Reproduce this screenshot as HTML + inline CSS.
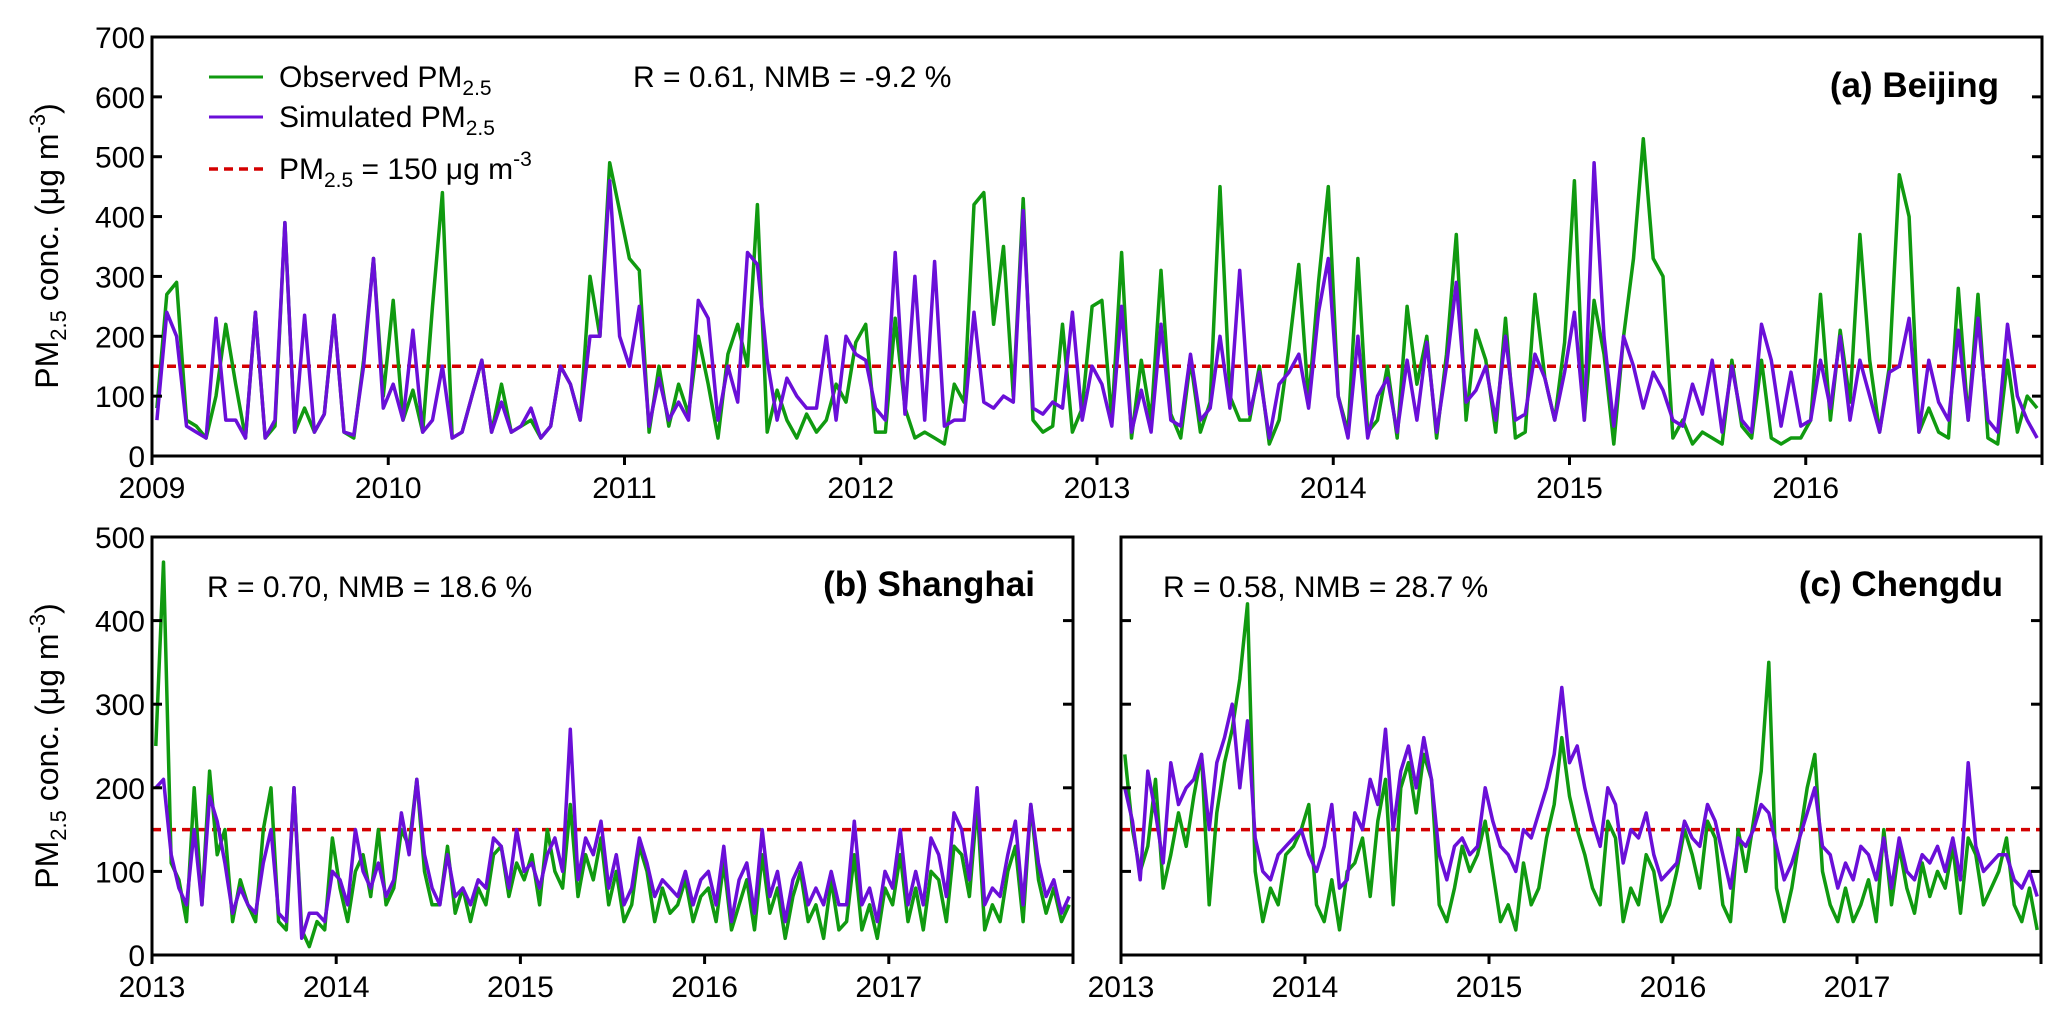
<!DOCTYPE html>
<html><head><meta charset="utf-8"><style>
html,body{margin:0;padding:0;background:#fff;}
svg{display:block;font-family:"Liberation Sans",Arial,sans-serif;}
</style></head><body>
<svg id="chart" width="2067" height="1021" viewBox="0 0 2067 1021" xmlns="http://www.w3.org/2000/svg">
<rect x="0" y="0" width="2067" height="1021" fill="#fff"/>
<g id="layer"></g>
<text transform="translate(58,246) rotate(-90)" text-anchor="middle" font-size="32">PM<tspan font-size="22" dy="8">2.5</tspan><tspan dy="-8"> conc. (μg m</tspan><tspan font-size="22" dy="-13">-3</tspan><tspan dy="13">)</tspan></text>
<text transform="translate(58,746) rotate(-90)" text-anchor="middle" font-size="32">PM<tspan font-size="22" dy="8">2.5</tspan><tspan dy="-8"> conc. (μg m</tspan><tspan font-size="22" dy="-13">-3</tspan><tspan dy="13">)</tspan></text>
<g>
<line x1="209" y1="77" x2="263" y2="77" stroke="#109a10" stroke-width="3"/>
<text x="279" y="87" font-size="30">Observed PM<tspan font-size="21" dy="8">2.5</tspan></text>
<line x1="209" y1="117" x2="263" y2="117" stroke="#6a0fd8" stroke-width="3"/>
<text x="279" y="127" font-size="30">Simulated PM<tspan font-size="21" dy="8">2.5</tspan></text>
<line x1="209" y1="169" x2="263" y2="169" stroke="#d40000" stroke-width="3.5" stroke-dasharray="9,6"/>
<text x="279" y="179" font-size="30">PM<tspan font-size="21" dy="8">2.5</tspan><tspan dy="-8"> = 150 μg m</tspan><tspan font-size="21" dy="-13">-3</tspan></text>
</g>
<text x="633" y="87" font-size="30">R = 0.61, NMB = -9.2 %</text>
<text x="1999" y="97" font-size="35" font-weight="bold" text-anchor="end">(a) Beijing</text>
<text x="207" y="597" font-size="30">R = 0.70, NMB = 18.6 %</text>
<text x="1035" y="596" font-size="35" font-weight="bold" text-anchor="end">(b) Shanghai</text>
<text x="1163" y="597" font-size="30">R = 0.58, NMB = 28.7 %</text>
<text x="2003" y="596" font-size="35" font-weight="bold" text-anchor="end">(c) Chengdu</text>
</svg>
<script>
const bjObs = [
80,270,290,60,50,30,100,220,120,30,240,30,50,390,40,80,40,70,235,40,30,160,330,100,
260,60,110,40,250,440,30,40,100,160,40,120,40,50,60,30,50,150,120,60,300,200,490,410,
330,310,40,150,50,120,70,200,120,30,170,220,150,420,40,110,60,30,70,40,60,120,90,190,
220,40,40,230,80,30,40,30,20,120,90,420,440,220,350,100,430,60,40,50,220,40,80,250,
260,60,340,30,160,60,310,70,30,160,40,90,450,100,60,60,150,20,60,180,320,90,290,450,
100,40,330,40,60,150,30,250,120,200,30,170,370,60,210,160,40,230,30,40,270,130,60,190,
460,60,260,170,20,200,330,530,330,300,30,60,20,40,30,20,160,50,30,160,30,20,30,30,
60,270,60,210,90,370,160,40,150,470,400,40,80,40,30,280,60,270,30,20,160,40,100,80];
const bjSim = [
60,240,200,50,40,30,230,60,60,30,240,30,60,390,40,235,40,70,235,40,35,150,330,80,
120,60,210,40,60,150,30,40,100,160,40,90,40,50,80,30,50,150,120,60,200,200,460,200,
150,250,50,130,60,90,60,260,230,60,150,90,340,320,160,60,130,100,80,80,200,60,200,170,
160,80,60,340,70,300,60,325,50,60,60,240,90,80,100,90,410,80,70,90,80,240,60,150,
120,50,250,40,110,40,220,60,50,170,60,80,200,80,310,70,140,30,120,140,170,80,240,330,
100,30,200,30,100,130,40,160,60,190,40,150,290,90,110,150,60,200,60,70,170,130,60,140,
240,60,490,200,50,200,150,80,140,110,60,50,120,70,160,40,150,60,40,220,160,50,140,50,
60,160,80,200,60,160,100,40,140,150,230,40,160,90,60,210,60,230,60,40,220,100,60,30];
const shObs = [
250,470,110,90,40,200,60,220,120,150,40,90,60,40,150,200,40,30,200,30,10,40,30,140,
80,40,100,120,70,150,60,80,150,130,210,100,60,60,130,50,80,40,80,60,120,130,70,110,
90,120,60,150,100,80,180,70,120,90,140,60,100,40,60,130,100,40,80,50,60,90,40,70,
80,40,110,30,60,90,30,120,50,80,20,70,100,40,60,20,90,30,40,120,30,60,20,80,
60,120,40,80,30,100,90,40,130,120,70,180,30,60,40,100,130,40,180,90,50,80,40,60];
const shSim = [
200,210,120,80,60,150,60,190,160,110,50,80,60,50,110,150,50,40,200,20,50,50,40,100,
90,60,150,100,80,110,70,90,170,120,210,120,80,60,120,70,80,60,90,80,140,130,80,150,
100,110,80,120,140,100,270,90,140,120,160,80,120,60,80,140,110,70,90,80,70,100,60,90,
100,60,130,40,90,110,50,150,70,100,40,90,110,60,80,60,100,60,60,160,60,80,40,100,
80,150,60,100,60,140,120,70,170,150,90,200,60,80,70,120,160,60,180,110,70,90,50,70];
const cdObs = [
240,150,100,130,210,80,120,170,130,190,240,60,170,230,270,330,420,100,40,80,60,120,130,150,
180,60,40,90,30,100,110,140,70,160,210,60,200,230,170,240,210,60,40,80,130,100,120,160,
100,40,60,30,110,60,80,140,180,260,190,150,120,80,60,160,140,40,80,60,120,100,40,60,
100,150,120,80,160,140,60,40,150,100,160,220,350,80,40,80,140,200,240,100,60,40,80,40,
60,90,40,150,60,130,80,50,110,70,100,80,130,50,140,120,60,80,100,140,60,40,80,30];
const cdSim = [
200,160,90,220,170,110,230,180,200,210,240,150,230,260,300,200,280,140,100,90,120,130,140,150,
120,100,130,180,80,90,170,150,210,180,270,150,220,250,200,260,210,120,90,130,140,120,130,200,
160,130,120,100,150,140,170,200,240,320,230,250,200,160,130,200,180,110,150,140,170,120,90,100,
110,160,140,130,180,160,120,80,140,130,150,180,170,130,90,110,140,170,200,130,120,80,110,90,
130,120,90,140,80,140,100,90,120,110,130,100,140,90,230,130,100,110,120,120,90,80,100,70];
const ticksA = [0,100,200,300,400,500,600,700];
const ticksB = [0,100,200,300,400,500];
const yearsA = [2009,2010,2011,2012,2013,2014,2015,2016,2017];
const yearsB = [2013,2014,2015,2016,2017,2018];
const threshold = 150;
const perYear = 24;

const NS = "http://www.w3.org/2000/svg";
const layer = document.getElementById("layer");
function mk(tag, attrs, parent) {
  const e = document.createElementNS(NS, tag);
  for (const k in attrs) e.setAttribute(k, attrs[k]);
  (parent || layer).appendChild(e);
  return e;
}
function panel(p) {
  const g = mk("g", {});
  
  
  const sx = t => p.x0 + (t - p.t0) / (p.t1 - p.t0) * (p.x1 - p.x0);
  const sy = v => p.y1 - v / p.vmax * (p.y1 - p.y0);
  const clipId = "clip-" + p.name;
  const cp = mk("clipPath", {id: clipId}, g);
  mk("rect", {x: p.x0, y: p.y0, width: p.x1 - p.x0, height: p.y1 - p.y0}, cp);
  const inner = mk("g", {"clip-path": "url(#" + clipId + ")"}, g);
  const th = mk("line", {x1: p.x0, x2: p.x1, y1: sy(threshold), y2: sy(threshold), stroke: "#d40000", "stroke-width": 3.5, "stroke-dasharray": "9,6"}, inner);
  
  
  const series = [[p.obs, "#109a10", "observed-line"], [p.sim, "#6a0fd8", "simulated-line"]];
  series.forEach(s => {
    const pts = s[0].map((v, i) => sx(p.t0 + (i + 0.5) / perYear).toFixed(1) + "," + sy(v).toFixed(1)).join(" ");
    const pl = mk("polyline", {points: pts, fill: "none", stroke: s[1], "stroke-width": 3.5, "stroke-linejoin": "round"}, inner);
    
    
  });
  const fr = mk("rect", {x: p.x0, y: p.y0, width: p.x1 - p.x0, height: p.y1 - p.y0, fill: "none", stroke: "#000", "stroke-width": 3}, g);
  
  
  p.ticks.forEach(v => {
    const y = sy(v);
    mk("line", {x1: p.x0, x2: p.x0 + 10, y1: y, y2: y, stroke: "#000", "stroke-width": 3}, g);
    mk("line", {x1: p.x1 - 10, x2: p.x1, y1: y, y2: y, stroke: "#000", "stroke-width": 3}, g);
    if (p.ylabels) {
      const t = mk("text", {x: p.x0 - 7, y: y + 11, "font-size": 30, "text-anchor": "end"}, g);
      
      
      t.textContent = v;
    }
  });
  p.years.forEach((yr, i) => {
    const x = sx(yr);
    mk("line", {x1: x, x2: x, y1: p.y1, y2: p.y1 + 9, stroke: "#000", "stroke-width": 3}, g);
    if (i < p.years.length - 1) {
      const t = mk("text", {x: x, y: p.y1 + 42, "font-size": 30, "text-anchor": "middle"}, g);
      
      
      t.textContent = yr;
    }
  });
}
panel({name: "panel-a-beijing", x0: 152, x1: 2042, y0: 37, y1: 456, t0: 2009, t1: 2017, vmax: 700, obs: bjObs, sim: bjSim, ticks: ticksA, years: yearsA, ylabels: true});
panel({name: "panel-b-shanghai", x0: 152, x1: 1073, y0: 537, y1: 955, t0: 2013, t1: 2018, vmax: 500, obs: shObs, sim: shSim, ticks: ticksB, years: yearsB, ylabels: true});
panel({name: "panel-c-chengdu", x0: 1121, x1: 2041, y0: 537, y1: 955, t0: 2013, t1: 2018, vmax: 500, obs: cdObs, sim: cdSim, ticks: ticksB, years: yearsB, ylabels: false});
</script>
</body></html>
